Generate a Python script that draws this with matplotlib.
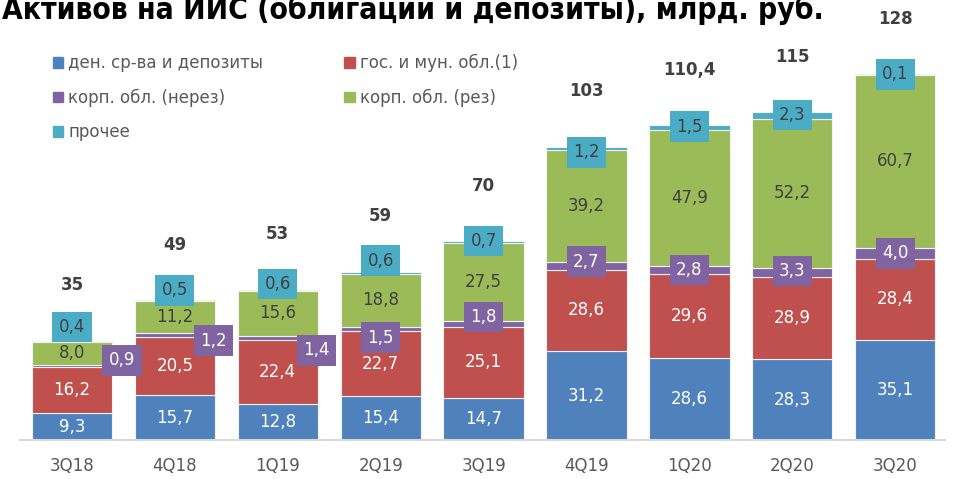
import matplotlib
matplotlib.use("Agg")
import matplotlib.pyplot as plt
from matplotlib.patches import Patch
import numpy as np

plt.rcParams['font.family'] = ['DejaVu Sans']

categories = ["3Q18", "4Q18", "1Q19", "2Q19", "3Q19", "4Q19", "1Q20", "2Q20", "3Q20"]
cash_deposits = [9.3, 15.7, 12.8, 15.4, 14.7, 31.2, 28.6, 28.3, 35.1]
gov_muni = [16.2, 20.5, 22.4, 22.7, 25.1, 28.6, 29.6, 28.9, 28.4]
corp_nonres = [0.9, 1.2, 1.4, 1.5, 1.8, 2.7, 2.8, 3.3, 4.0]
corp_res = [8.0, 11.2, 15.6, 18.8, 27.5, 39.2, 47.9, 52.2, 60.7]
other = [0.4, 0.5, 0.6, 0.6, 0.7, 1.2, 1.5, 2.3, 0.1]
total_labels = ["35", "49", "53", "59", "70", "103", "110,4", "115", "128"]

series_names = ["ден. ср-ва и депозиты", "гос. и мун. обл.(1)", "корп. обл. (нерез)",
                "корп. обл. (рез)", "прочее"]
colors = ["#4F81BD", "#C0504D", "#8064A2", "#9BBB59", "#4BACC6"]
series = [cash_deposits, gov_muni, corp_nonres, corp_res, other]

# label layout nudges (in points), as placed in the reference
other_dy = [10, 7, 4, 8, 0, -4, -1, -2, 0]
nonres_dy = [4, -4, -9, -6, 5, 3, 0, 1, 0]
nonres_dx = [36, 28, 28, 0, 0, 0, 0, 0, 0]

W, H = 954, 479
fig = plt.figure(figsize=(W / 100, H / 100), dpi=100)
ax_left, ax_right, ax_bottom = 20, 945, 39
ax = fig.add_axes([ax_left / W, ax_bottom / H, (ax_right - ax_left) / W, (H - ax_bottom) / H])

step = 102.9
c0 = 72
ax.set_xlim((ax_left - c0) / step, (ax_right - c0) / step)
ax.set_ylim(0, (H - ax_bottom) / 2.85)

x = np.arange(len(categories))
width = 0.78
bottom = np.zeros(len(categories))
fmt = lambda v: f"{v:.1f}".replace(".", ",")

for i, (vals, col) in enumerate(zip(series, colors)):
    vals = np.array(vals)
    ax.bar(x, vals, width, bottom=bottom, color=col, edgecolor="#F2F2F2", linewidth=0.8, zorder=2)
    for j, v in enumerate(vals):
        if i in (0, 1):
            ax.text(x[j], bottom[j] + v / 2, fmt(v), ha="center", va="center",
                    fontsize=12, color="white", zorder=4)
        elif i == 3:
            ax.text(x[j], bottom[j] + v / 2, fmt(v), ha="center", va="center",
                    fontsize=12, color="#404040", zorder=4)
        elif i == 2:
            ax.annotate(fmt(v), (x[j], bottom[j] + v / 2), xytext=(nonres_dx[j], nonres_dy[j]),
                        textcoords="offset points", ha="center", va="center",
                        fontsize=12, color="white", zorder=5,
                        bbox=dict(boxstyle="square,pad=0.38", fc=col, ec="none"))
        else:
            ax.annotate(fmt(v), (x[j], bottom[j] + v), xytext=(0, other_dy[j]),
                        textcoords="offset points", ha="center", va="center",
                        fontsize=12, color="#404040", zorder=5,
                        bbox=dict(boxstyle="square,pad=0.38", fc=col, ec="none"))
    bottom = bottom + vals

for j, lab in enumerate(total_labels):
    ax.annotate(lab, (x[j], bottom[j]), xytext=(0, 40), textcoords="offset points",
                ha="center", va="center", fontsize=12, fontweight="bold", color="#404040")

for s in ["top", "right", "left"]:
    ax.spines[s].set_visible(False)
ax.spines["bottom"].set_color("#D9D9D9")
ax.spines["bottom"].set_linewidth(1.5)
ax.set_yticks([])
ax.set_xticks(x)
ax.set_xticklabels(categories, fontsize=12, color="#595959")
ax.tick_params(axis="x", length=0, pad=12)

handles = [Patch(color=c) for c in colors]
order = [0, 2, 4, 1, 3]
leg = fig.legend([handles[k] for k in order], [series_names[k] for k in order],
                 ncol=2, loc="upper left", bbox_to_anchor=(38 / W, 1 - 39 / H),
                 frameon=False, fontsize=12, handlelength=0.62, handleheight=0.62,
                 handletextpad=0.3, labelspacing=0.98, columnspacing=4.85)
for t in leg.get_texts():
    t.set_color("#595959")

fig.text(2 / W, 1 - 19 / H, "Активов на ИИС (облигации и депозиты), млрд. руб.",
         fontsize=21.5, fontweight="bold", fontstretch="condensed", color="black",
         ha="left", va="baseline")

fig.savefig("out.png", dpi=100)
